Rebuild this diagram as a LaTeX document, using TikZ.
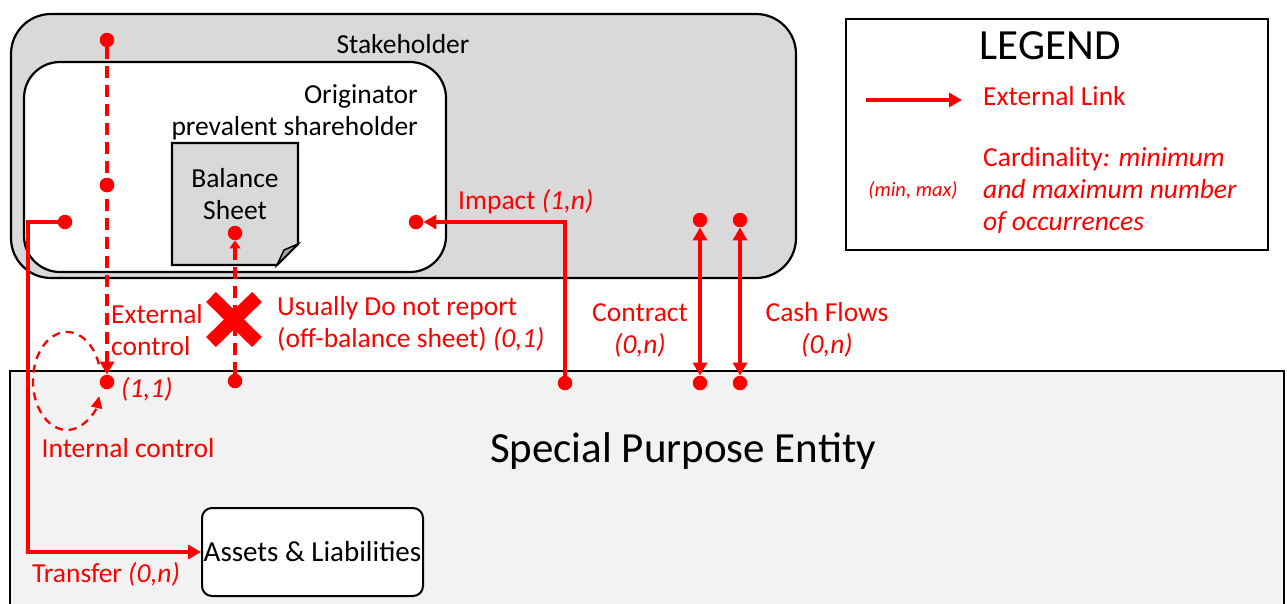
\documentclass[tikz,border=0pt]{standalone}
\usepackage{fontspec}
\setmainfont{Carlito}
\usetikzlibrary{arrows.meta}
\definecolor{stkgray}{HTML}{D9D9D9}
\definecolor{spegray}{HTML}{F2F2F2}
\definecolor{foldgray}{HTML}{A6A6A6}
\definecolor{lnkred}{HTML}{FF0000}
\begin{document}
\begin{tikzpicture}[x=1pt,y=-1pt,
  base/.style={font=\fontsize{27.5}{32}\selectfont},
  big/.style={font=\fontsize{43}{50}\selectfont},
  redtxt/.style={base,text=lnkred,inner sep=0pt},
  blktxt/.style={base,text=black,inner sep=0pt},
  dot/.style={circle,fill=lnkred,inner sep=0pt,minimum size=14.5pt},
  link/.style={draw=lnkred,line width=3.3pt},
  dlink/.style={link,dash pattern=on 12pt off 7pt},
  tip/.style={-{Triangle[length=13pt,width=14pt]}},
  bitip/.style={{Triangle[length=13pt,width=14pt]}-{Triangle[length=13pt,width=14pt]}},
  frame/.style={draw=black,line width=2.2pt}
]
\useasboundingbox (0,0) rectangle (1287,603);
% Special purpose entity
\draw[frame,fill=spegray] (10,371) rectangle (1284,610);
\node[big,inner sep=0pt] (spe) at (683,451) {Special Purpose Entity};
% Stakeholder
\draw[frame,fill=stkgray,rounded corners=40pt] (11,14) rectangle (796,278);
\node[blktxt] (stk) at (403,44) {Stakeholder};
% Originator
\draw[frame,fill=white,rounded corners=36pt] (24,62) rectangle (446,272);
\node[blktxt,anchor=east,align=right] (orig) at (418,112) {Originator\\prevalent shareholder};
% Balance sheet
\draw[frame,fill=stkgray] (172,143) -- (298,143) -- (298,244) -- (277,265) -- (172,265) -- cycle;
\draw[line width=1.5pt,fill=foldgray] (277,265) -- (284,250) -- (298,244) -- cycle;
\node[blktxt,align=center] (bs) at (235,194) {Balance\\Sheet};
% Assets
\node[draw=black,line width=2pt,fill=white,rounded corners=10pt,minimum width=221pt,minimum height=88pt,inner sep=0pt,font=\fontsize{29}{34}\selectfont] (assets) at (312.5,552) {Assets \& Liabilities};
% Legend
\draw[frame] (846,19) rectangle (1268,250);
\node[big,inner sep=0pt] (leg) at (1050,46) {LEGEND};
\coordinate (la) at (866,100);
\coordinate (lb) at (962,100);
\draw[link,tip] (la) -- (lb);
\node[redtxt,anchor=west] (ext) at (983,96) {External Link};
\node[redtxt,anchor=west,align=left] (card) at (983,191) {Cardinality\textit{: minimum}\\\textit{and maximum number}\\\textit{of occurrences}};
\node[text=lnkred,inner sep=0pt,font=\fontsize{20.5}{24}\selectfont\itshape] (mm) at (913,190) {(min, max)};
% dots
\node[dot] (ec1) at (107,40) {};
\node[dot] (ec2) at (107,185) {};
\node[dot] (ec3) at (107,382) {};
\node[dot] (bs1) at (235,233) {};
\node[dot] (bs2) at (235,381) {};
\node[dot] (imp1) at (416,222) {};
\node[dot] (imp2) at (565,383) {};
\node[dot] (tr1) at (65,222) {};
\node[dot] (ct1) at (700,220) {};
\node[dot] (ct2) at (700,383) {};
\node[dot] (cf1) at (740,220) {};
\node[dot] (cf2) at (740,383) {};
% External control
\draw[dlink,tip] (ec1) -- (ec3);
\node[dot] at (ec2) {};
\node[redtxt,anchor=west,align=left] (ectxt) at (111,330) {External\\control};
\node[redtxt,anchor=west,font=\fontsize{27.5}{32}\selectfont\itshape] (c11) at (121,389) {(1,1)};
% Internal control
\draw[draw=lnkred,line width=2.3pt,dash pattern=on 8pt off 6pt,-{Triangle[length=12pt,width=11pt]}]
  (98.9,364.2) arc[start angle=-20,end angle=-342,x radius=34,y radius=49];
\node[redtxt] (ictxt) at (128,448) {Internal control};
% Balance sheet link
\draw[dlink] (bs2) -- (235,246);
\draw[link,-{Triangle[length=8pt,width=11pt]}] (235,250) -- (bs1);
\draw[lnkred,line width=14pt] (211,297) -- (257,342) (257,297) -- (211,342);
\node[redtxt,anchor=west,align=left] (ustxt) at (277,324) {Usually Do not report\\(off-balance sheet) \textit{(0,1)}};
% Impact
\draw[link,tip] (imp2) |- (imp1);
\node[redtxt,anchor=west] (imptxt) at (458,202) {Impact \textit{(1,n)}};
% Transfer
\coordinate (trc) at (28,222);
\draw[link,tip] (tr1) -- (trc) |- (assets);
\node[redtxt,anchor=west] (trtxt) at (32,574) {Transfer \textit{(0,n)}};
% Contract & Cash flows
\draw[link,bitip] (ct1) -- (ct2);
\draw[link,bitip] (cf1) -- (cf2);
\node[redtxt,align=center] (cttxt) at (640,330) {Contract\\\textit{(0,n)}};
\node[redtxt,align=center] (cftxt) at (827,330) {Cash Flows\\\textit{(0,n)}};
\end{tikzpicture}
\end{document}
